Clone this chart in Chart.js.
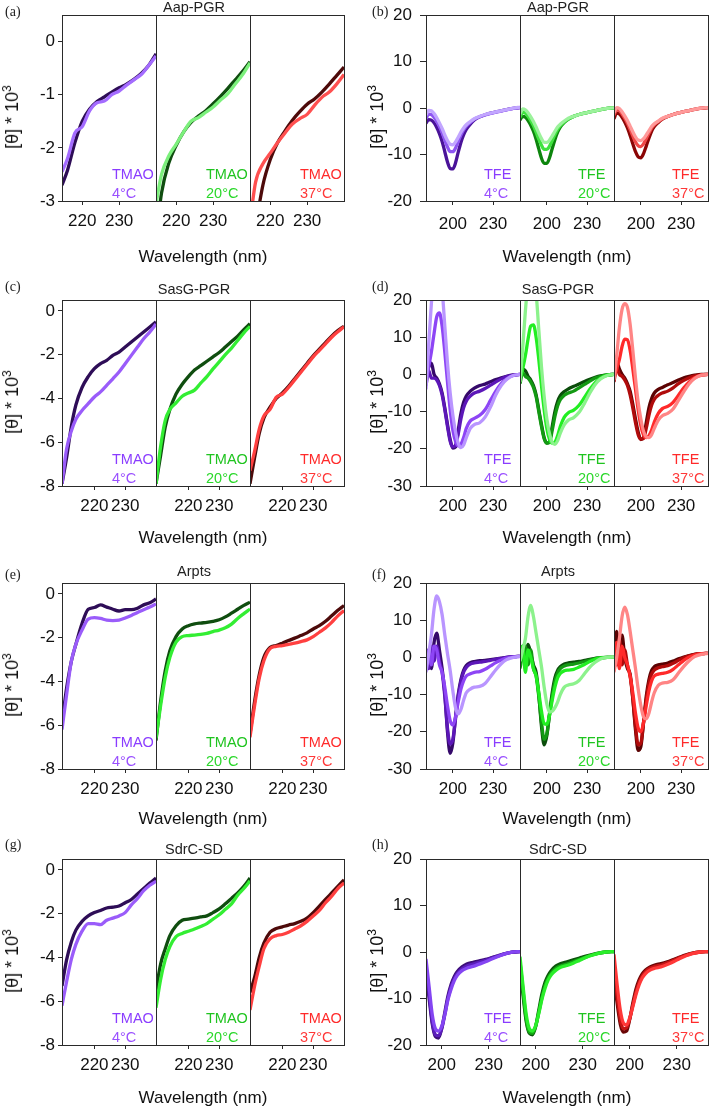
<!DOCTYPE html>
<html>
<head>
<meta charset="utf-8">
<script src="https://cdn.jsdelivr.net/npm/chart.js@4.4.0/dist/chart.umd.min.js"></script>
<style>
  body { margin: 0; background: #fff; width: 709px; height: 1109px; position: relative; overflow: hidden;
         font-family: "Liberation Sans", Arial, sans-serif; color: #111; }
  canvas { position: absolute; }
  .t { position: absolute; white-space: nowrap; line-height: 1; }
  .box { position: absolute; box-sizing: border-box; border: 1px solid #2a2a2a; z-index: 5; pointer-events: none; }
  .div { position: absolute; width: 1px; background: #2a2a2a; z-index: 5; }
</style>
</head>
<body>
<script>
// ---- wavelength grids (nm) ----
const wlA   = [214.5, 216, 218, 220, 222, 224, 226, 228, 230, 232, 234, 236, 238, 240];
const wlTm  = [209.5, 211, 212.5, 214, 216, 218, 220, 222, 224, 226, 228, 230, 232, 234, 236, 238, 240];
const wlTfe = [180, 182, 184, 186, 188, 190, 192, 194, 196, 198, 200, 202, 204, 206, 208, 210, 213, 216, 220, 224, 228, 232, 236, 240, 245, 250];
const wlH   = [190, 192, 194, 196, 198, 200, 202, 204, 206, 208, 210, 213, 216, 220, 224, 228, 232, 236, 240, 245, 250];

// ---- tick labels ----
const xTicksTmao = [220, 230];
const xTicksTfe  = [200, 230];
const yTicksA    = [-3, -2, -1, 0];
const yTicksTmao = [-8, -6, -4, -2, 0];
const yTicksTfe  = [-20, -10, 0, 10, 20];
const yTicksTfeW = [-30, -20, -10, 0, 10, 20];

const titles = ["Aap-PGR", "SasG-PGR", "Arpts", "SdrC-SD"];
const temps  = ["4°C", "20°C", "37°C"];

// ---- (a) Aap-PGR, TMAO ----
const a4Dark   = [-2.7, -2.42, -1.9, -1.5, -1.27, -1.13, -1.04, -0.95, -0.87, -0.8, -0.71, -0.6, -0.45, -0.23];
const a4Light  = [-2.45, -2.2, -1.72, -1.6, -1.3, -1.15, -1.12, -1.0, -0.93, -0.82, -0.72, -0.62, -0.45, -0.27];
const a20Dark  = [-3.7, -2.85, -2.28, -1.95, -1.7, -1.52, -1.4, -1.3, -1.17, -1.03, -0.88, -0.72, -0.56, -0.38];
const a20Light = [-3.05, -2.5, -2.15, -1.93, -1.7, -1.5, -1.43, -1.33, -1.23, -1.1, -0.98, -0.8, -0.62, -0.4];
const a37Dark  = [-4.2, -3.5, -2.7, -2.22, -1.9, -1.68, -1.48, -1.32, -1.18, -1.08, -0.95, -0.8, -0.64, -0.48];
const a37Light = [-3.4, -2.65, -2.3, -2.1, -1.9, -1.72, -1.55, -1.45, -1.37, -1.2, -1.05, -0.95, -0.8, -0.62];

// ---- (b) Aap-PGR, TFE ----
const b4_1  = [-3.3, -2.5, -2.6, -3.2, -4.2, -5.5, -7.2, -9.4, -11.6, -13.0, -13.1, -11.8, -9.5, -7.4, -5.8, -4.6, -3.5, -2.6, -1.9, -1.45, -1.1, -0.85, -0.6, -0.35, -0.1, 0.1];
const b4_2  = [-2.3, -1.3, -1.4, -2.0, -2.9, -4.0, -5.3, -6.9, -8.4, -9.4, -9.4, -8.6, -7.2, -5.8, -4.7, -3.9, -3.1, -2.4, -1.9, -1.5, -1.15, -0.9, -0.65, -0.4, -0.1, 0.1];
const b4_3  = [-1.5, -0.5, -0.6, -1.2, -2.1, -3.2, -4.4, -5.8, -7.0, -7.8, -7.9, -7.3, -6.3, -5.2, -4.3, -3.6, -2.9, -2.3, -1.8, -1.4, -1.1, -0.85, -0.6, -0.35, -0.05, 0.2];
const b20_1 = [-2.6, -1.8, -2.0, -2.7, -3.7, -5.0, -6.7, -8.8, -10.8, -11.9, -11.9, -10.7, -8.7, -6.8, -5.2, -4.1, -3.1, -2.4, -1.8, -1.4, -1.1, -0.85, -0.6, -0.35, -0.1, 0.05];
const b20_2 = [-2.0, -0.9, -1.1, -1.8, -2.7, -3.8, -5.2, -6.7, -8.0, -8.9, -8.9, -8.2, -7.0, -5.7, -4.6, -3.8, -3.0, -2.4, -1.8, -1.4, -1.1, -0.85, -0.6, -0.35, -0.1, 0.05];
const b20_3 = [-1.3, -0.2, -0.4, -1.0, -1.9, -2.9, -4.1, -5.4, -6.6, -7.4, -7.4, -6.9, -6.0, -5.0, -4.1, -3.5, -2.8, -2.2, -1.8, -1.4, -1.1, -0.85, -0.6, -0.35, -0.1, 0.1];
const b37_1 = [-2.3, -1.1, -1.3, -2.0, -3.0, -4.3, -5.9, -7.7, -9.4, -10.5, -10.7, -9.8, -8.2, -6.5, -5.0, -4.0, -3.1, -2.4, -1.85, -1.4, -1.05, -0.8, -0.55, -0.3, -0.05, 0.1];
const b37_2 = [-1.5, -0.4, -0.6, -1.3, -2.2, -3.3, -4.6, -6.0, -7.3, -8.1, -8.3, -7.7, -6.6, -5.4, -4.3, -3.6, -2.9, -2.3, -1.8, -1.4, -1.05, -0.8, -0.55, -0.3, -0.05, 0.1];
const b37_3 = [-1.0, 0.1, -0.1, -0.8, -1.7, -2.7, -3.9, -5.1, -6.2, -6.9, -7.0, -6.6, -5.8, -4.9, -4.0, -3.4, -2.8, -2.2, -1.8, -1.4, -1.05, -0.8, -0.55, -0.3, 0.0, 0.1];

// ---- (c) SasG-PGR, TMAO ----
const c4Dark   = [-7.9, -6.7, -5.3, -4.3, -3.5, -3.0, -2.64, -2.41, -2.26, -2.03, -1.88, -1.65, -1.42, -1.19, -0.96, -0.73, -0.5];
const c4Light  = [-7.9, -6.3, -5.5, -4.95, -4.55, -4.24, -3.93, -3.7, -3.4, -3.1, -2.79, -2.41, -2.03, -1.65, -1.27, -0.96, -0.6];
const c20Dark  = [-7.9, -6.6, -5.3, -4.5, -3.8, -3.35, -3.0, -2.7, -2.5, -2.3, -2.1, -1.9, -1.65, -1.4, -1.15, -0.85, -0.58];
const c20Light = [-7.9, -6.2, -5.0, -4.5, -4.2, -3.9, -3.75, -3.62, -3.3, -3.0, -2.65, -2.33, -2.0, -1.7, -1.35, -1.0, -0.7];
const c37Dark  = [-7.9, -6.7, -5.6, -4.9, -4.4, -4.0, -3.75, -3.45, -3.1, -2.75, -2.4, -2.05, -1.75, -1.45, -1.15, -0.9, -0.7];
const c37Light = [-7.3, -6.4, -5.4, -4.8, -4.5, -3.95, -3.8, -3.5, -3.15, -2.8, -2.45, -2.1, -1.8, -1.5, -1.2, -0.95, -0.72];

// ---- (d) SasG-PGR, TFE ----
const d4_1  = [-1, 2, 3, 0, -1, -2.5, -5, -9, -13.5, -17.5, -19.8, -19.5, -15, -10.5, -7.5, -5.8, -4.5, -3.7, -3.0, -2.6, -2.0, -1.4, -0.9, -0.5, -0.15, 0];
const d4_2  = [-3, 1, -1, -1, -1.5, -3, -5.5, -9.5, -14, -18, -19.5, -19, -16, -12, -9, -7.2, -5.8, -5, -4.5, -3.8, -2.9, -2.0, -1.2, -0.6, -0.2, 0];
const d4_3  = [-2, 2, 6, 11, 15.5, 16.5, 13, 6, -2, -9.5, -15, -18, -19.2, -18.8, -17, -14.5, -12.5, -11.8, -11, -9.5, -7, -4.5, -2.5, -1.2, -0.3, 0];
const d4_4  = [-4, 8, 19, 27, 30, 29, 23, 13, 3, -5, -11, -15.5, -18.5, -19.7, -19, -17, -14.5, -13.5, -13, -11.5, -8.8, -5.5, -3, -1.4, -0.3, 0];
const d20_1 = [-1, 1.5, 1, -0.5, -1.5, -3, -5.5, -9.5, -13.5, -17, -18.5, -18, -14, -10, -7.3, -5.7, -4.6, -3.9, -3.2, -2.6, -1.9, -1.3, -0.8, -0.4, -0.1, 0];
const d20_2 = [-2.5, 0.5, -0.5, -1, -2, -3.5, -6, -10, -14, -17.3, -18.5, -18.2, -15, -11.3, -8.5, -6.8, -5.6, -5, -4.5, -3.6, -2.7, -1.8, -1.0, -0.5, -0.1, 0];
const d20_3 = [-1.5, 1.5, 5, 9.5, 13, 13.3, 10, 4, -3, -9.5, -14.5, -17.5, -18.5, -18.2, -16.5, -14, -11.5, -10.3, -9.6, -8.3, -6.2, -4, -2.2, -1.0, -0.2, 0];
const d20_4 = [-2, 7, 17, 25, 29, 28, 22, 12, 2, -6, -12, -16, -18.3, -18.8, -17.8, -15.8, -13.5, -12.3, -11.6, -10.2, -7.8, -5, -2.7, -1.2, -0.3, 0];
const d37_1 = [-1, 3.5, 1.5, 0, -1, -2.5, -4.5, -8, -12, -15.5, -17.5, -17, -13, -9, -6.5, -5, -4, -3.5, -2.8, -2.2, -1.5, -0.9, -0.5, -0.2, 0, 0];
const d37_2 = [-2, 2, 0, -0.5, -1.5, -3, -5.5, -9, -13, -16.2, -17.4, -17.2, -14.5, -11, -8.3, -6.7, -5.6, -5, -4.5, -3.6, -2.5, -1.6, -0.9, -0.4, -0.1, 0];
const d37_3 = [-1, 1.5, 4, 7.5, 9.5, 9.3, 6.5, 1.5, -4, -9.5, -13.8, -16.3, -17, -16.5, -15, -12.8, -10.5, -9.2, -8.6, -7.5, -5.6, -3.6, -2, -0.9, -0.2, 0];
const d37_4 = [-1.5, 5, 12.5, 17.5, 19, 18, 13.5, 6.5, -1, -7.5, -12, -15.3, -16.8, -17, -16.2, -14.5, -12.3, -11.1, -10.5, -9.3, -7, -4.6, -2.5, -1.1, -0.2, 0];

// ---- (e) Arpts, TMAO ----
const e4Dark   = [-5.9, -4.3, -3.1, -2.3, -1.35, -0.7, -0.62, -0.5, -0.6, -0.7, -0.78, -0.72, -0.72, -0.65, -0.5, -0.4, -0.23];
const e4Light  = [-6.2, -4.6, -3.1, -2.3, -1.65, -1.15, -1.08, -1.12, -1.2, -1.22, -1.2, -1.1, -0.98, -0.85, -0.72, -0.6, -0.46];
const e20Dark  = [-6.7, -4.9, -3.5, -2.6, -1.95, -1.6, -1.45, -1.37, -1.33, -1.3, -1.25, -1.18, -1.05, -0.88, -0.7, -0.52, -0.38];
const e20Light = [-6.6, -5.1, -3.8, -2.9, -2.2, -1.95, -1.9, -1.88, -1.85, -1.8, -1.72, -1.65, -1.55, -1.38, -1.12, -0.9, -0.69];
const e37Dark  = [-6.4, -4.9, -3.7, -2.9, -2.45, -2.36, -2.25, -2.13, -2.02, -1.9, -1.78, -1.6, -1.45, -1.25, -1.0, -0.75, -0.53];
const e37Light = [-6.55, -5.1, -3.85, -3.05, -2.5, -2.4, -2.36, -2.3, -2.25, -2.18, -2.1, -1.95, -1.75, -1.55, -1.3, -1.0, -0.76];

// ---- (f) Arpts, TFE ----
const f4_1  = [-2, 2, -3, 4, 6.5, 2, -3, -9.5, -20, -25.8, -23, -16, -10, -6, -3.5, -2.2, -1.4, -1.1, -0.9, -0.8, -0.6, -0.4, -0.2, 0, 0.2, 0.3];
const f4_2  = [0, -3, 3, -1, 3, -1, -4, -10.5, -19, -23.3, -22, -16.5, -10.5, -6.5, -4, -2.7, -1.8, -1.5, -1.3, -1.1, -0.8, -0.5, -0.25, 0, 0.2, 0.3];
const f4_3  = [-3, 2, -2, 3, 2, -2, -4, -8, -13, -17, -18.2, -16, -12, -8.5, -6.3, -5, -4.4, -4, -3.8, -3.2, -2.3, -1.4, -0.7, -0.2, 0.1, 0.3];
const f4_4  = [-4, 1, 6, 13, 16.5, 15, 11.5, 6, 1, -3.5, -9, -13.5, -15.2, -14, -11.5, -9.5, -8.5, -8, -7.8, -7, -5.2, -3.3, -1.7, -0.6, 0, 0.3];
const f20_1 = [-2, 3, -1, 3.5, 1, -2, -4, -10, -18.5, -23.5, -21, -15, -9.5, -5.5, -3.5, -2.5, -1.8, -1.5, -1.3, -1.1, -0.8, -0.5, -0.25, -0.05, 0, 0];
const f20_2 = [-3, 1, 3, -2, 2, -3, -5, -10.5, -17.5, -22, -20.5, -15.5, -10.5, -6.5, -4.2, -3, -2.3, -2, -1.8, -1.5, -1.1, -0.7, -0.35, -0.1, 0, 0];
const f20_3 = [-1, 3, -4, 2, 0, -3, -5, -9.5, -14.5, -17.8, -18, -15.5, -11.5, -8, -5.5, -4.3, -3.6, -3.4, -3.2, -2.6, -1.9, -1.1, -0.5, -0.15, 0, 0];
const f20_4 = [-1, 2, 5, 11, 14, 11, 6.5, 2, -2.5, -8, -12.5, -14.7, -14.5, -13.5, -12, -10, -8, -7.4, -7.1, -6.2, -4.4, -2.6, -1.3, -0.4, 0, 0.1];
const f37_1 = [4, 7, -1, 6, 0, -3, -4.5, -11, -19.5, -25, -24, -17.5, -10.5, -6, -3.5, -2.5, -2, -1.8, -1.5, -1, -0.4, 0.1, 0.5, 0.8, 1, 1.1];
const f37_2 = [2, -2, 5, -2, 2, -2, -5, -11, -18.5, -23.5, -23, -17.5, -11.5, -7, -4.5, -3.4, -2.8, -2.5, -2.2, -1.6, -0.8, -0.1, 0.4, 0.8, 1, 1.1];
const f37_3 = [-2, 4, -3, 3, 0, -2, -5, -9.5, -15, -19, -20, -17.5, -13, -9, -6.3, -5, -4.5, -4.3, -4, -3.2, -2, -0.8, 0.1, 0.6, 1, 1.1];
const f37_4 = [-4, 0, 5, 11, 13.5, 11.5, 7, 2, -3, -8.5, -13, -16, -16.5, -15, -12, -9.5, -7.5, -6.9, -6.7, -6, -4.2, -2.4, -0.9, 0.2, 0.8, 1.1];

// ---- (g) SdrC-SD, TMAO ----
const g4Dark   = [-5.3, -4.1, -3.3, -2.75, -2.35, -2.1, -1.95, -1.85, -1.74, -1.7, -1.65, -1.5, -1.35, -1.1, -0.85, -0.6, -0.37];
const g4Light  = [-6.2, -5.1, -4.1, -3.4, -2.8, -2.45, -2.45, -2.5, -2.3, -2.2, -2.1, -1.95, -1.6, -1.3, -0.95, -0.7, -0.52];
const g20Dark  = [-5.5, -4.3, -3.6, -3.0, -2.55, -2.3, -2.25, -2.2, -2.15, -2.1, -1.95, -1.78, -1.55, -1.3, -1.05, -0.75, -0.37];
const g20Light = [-6.3, -5.0, -4.1, -3.5, -3.05, -2.9, -2.8, -2.7, -2.58, -2.45, -2.25, -2.05, -1.8, -1.55, -1.15, -0.85, -0.5];
const g37Dark  = [-5.6, -4.9, -4.0, -3.35, -2.85, -2.68, -2.6, -2.52, -2.45, -2.35, -2.2, -1.95, -1.65, -1.35, -1.05, -0.75, -0.45];
const g37Light = [-6.4, -5.3, -4.4, -3.6, -3.15, -3.0, -2.95, -2.85, -2.7, -2.55, -2.35, -2.1, -1.85, -1.5, -1.2, -0.85, -0.6];

// ---- (h) SdrC-SD, TFE ----
const h4_1  = [-4.5, -10, -15.5, -18.2, -18.5, -16.5, -13, -9.5, -7, -5.3, -4.2, -3.2, -2.6, -2.2, -1.9, -1.6, -1.2, -0.8, -0.4, -0.05, 0.1];
const h4_2  = [-3, -9, -15, -17.8, -18, -16.5, -13.5, -10, -7.5, -5.8, -4.6, -3.6, -3, -2.6, -2.2, -1.8, -1.3, -0.85, -0.4, -0.05, 0.1];
const h4_3  = [-1.5, -7.5, -13.5, -16.5, -17, -16, -13.5, -10.3, -8, -6.2, -5, -4, -3.5, -3.1, -2.6, -2.1, -1.5, -0.95, -0.45, -0.05, 0.1];
const h20_1 = [-3.5, -9.5, -15, -17.5, -17.8, -16, -12.5, -9, -6.5, -5, -4, -3, -2.5, -2.1, -1.7, -1.3, -0.9, -0.55, -0.25, 0, 0.1];
const h20_2 = [-2, -8.5, -14.5, -17.2, -17.5, -16, -13, -9.8, -7.2, -5.6, -4.5, -3.5, -3, -2.6, -2.1, -1.6, -1.1, -0.65, -0.3, 0, 0.1];
const h20_3 = [-1, -7.5, -13.5, -16.5, -17, -15.8, -13.2, -10.2, -7.8, -6, -4.9, -3.9, -3.3, -2.9, -2.4, -1.8, -1.2, -0.7, -0.3, 0, 0.1];
const h37_1 = [-5, -11, -15.5, -17.2, -17, -14.5, -11, -8, -6, -4.7, -3.9, -3.2, -2.8, -2.5, -2.1, -1.6, -1.1, -0.6, -0.25, 0, 0.1];
const h37_2 = [-3, -9.5, -14.5, -16.5, -16.3, -14.5, -11.5, -8.7, -6.6, -5.2, -4.3, -3.5, -3.1, -2.8, -2.3, -1.8, -1.2, -0.7, -0.3, 0, 0.1];
const h37_3 = [-0.5, -7, -12.5, -15.3, -15.7, -14.2, -11.8, -9.2, -7.1, -5.6, -4.7, -3.9, -3.5, -3.2, -2.7, -2.1, -1.4, -0.8, -0.35, 0, 0.1];

// ---- colours ----
const tmaoCols = [["#2e0d57", "#9a5cfa"], ["#0f4d0f", "#33ee33"], ["#4d0a0a", "#ff4040"]];
const tmaoColsA = [["#2e0d57", "#a46cff"], ["#0f4d0f", "#7cf07c"], ["#4d0a0a", "#ff5050"]];
const tfe3Cols = [["#4a1399", "#8e55f2", "#c2a6ff"], ["#0d850d", "#3fe33f", "#9cf29c"], ["#8b0505", "#f04848", "#ff9a9a"]];
const tfe4Cols = [["#35096a", "#5c17b8", "#8d45f5", "#b995ff"], ["#0b4d0b", "#139913", "#22ee22", "#8cf28c"], ["#5c0303", "#b00b0b", "#ff2a2a", "#ff8585"]];
const tfeHCols = [["#3d0e78", "#5a1dbb", "#8445f2"], ["#0b550b", "#14a814", "#2aee2a"], ["#6a0606", "#c41414", "#ff3838"]];
const labelCols = [["#8a3cff", "#9a50ff"], ["#1fc41f", "#2bd82b"], ["#ff2a2a", "#ff3838"]];

// ---- layout ----
const SUB_W = 94, BOX_H = 186, X_AXIS_H = 34, PAD_T = 12, PAD_R = 4;
const ROW_TOP = [15, 300, 583, 859];
const LEFT  = { x0: 62,  yW: 62, tickLen: 4, tickPad: 3, labelDx: 50, letterX: 5,   titleX: 194, xTitleX: 203, yTitleX: 12 };
const RIGHT = { x0: 426, yW: 46, tickLen: 6, tickPad: 8, labelDx: 58, letterX: 372, titleX: 558, xTitleX: 567, yTitleX: 377 };
const LETTER_Y = [12, 287, 575, 845];
const TITLE_Y = [7, 289, 571, 849];
const XTITLE_Y = [256, 537, 818, 1097];

Chart.defaults.font.family = '"Liberation Sans", Arial, sans-serif';
Chart.defaults.font.size = 17;
Chart.defaults.color = "#111";

function text(html, x, y, style, anchor) {
  const d = document.createElement("div");
  d.className = "t";
  d.innerHTML = html;
  d.style.left = x + "px";
  d.style.top = y + "px";
  d.style.transform = anchor || "translate(-50%,-50%)";
  Object.assign(d.style, style);
  document.body.appendChild(d);
}

function el(cls, l, t, w, h) {
  const d = document.createElement("div");
  d.className = cls;
  d.style.left = l + "px"; d.style.top = t + "px";
  if (w != null) d.style.width = w + "px";
  d.style.height = h + "px";
  document.body.appendChild(d);
}

function subPanel(col, row, idx, p) {
  const showY = idx === 0;
  const padL = showY ? 0 : 4;
  const yW = showY ? col.yW : 0;
  const boxL = col.x0 + idx * SUB_W, boxT = ROW_TOP[row];
  const w = padL + yW + SUB_W + PAD_R, h = PAD_T + BOX_H + X_AXIS_H;
  const cv = document.createElement("canvas");
  cv.width = w; cv.height = h;
  cv.style.left = (boxL - yW - padL) + "px";
  cv.style.top = (boxT - PAD_T) + "px";
  cv.style.width = w + "px"; cv.style.height = h + "px";
  document.body.appendChild(cv);

  const series = p.subs[idx], cols = p.colors[idx];
  new Chart(cv, {
    type: "line",
    data: {
      datasets: series.map((s, i) => ({
        data: p.wl.map((x, j) => ({ x: x, y: s[j] })),
        borderColor: cols[i],
        borderWidth: 3.3,
        pointRadius: 0,
        cubicInterpolationMode: "monotone",
        order: series.length - i
      }))
    },
    options: {
      responsive: false,
      animation: false,
      devicePixelRatio: 1,
      layout: { padding: { left: padL, top: PAD_T, right: PAD_R, bottom: 0 } },
      plugins: { legend: { display: false }, tooltip: { enabled: false } },
      scales: {
        x: {
          type: "linear", min: p.xr[0], max: p.xr[1],
          afterBuildTicks: s => { s.ticks = p.xt.map(v => ({ value: v })); },
          afterFit: s => { s.height = X_AXIS_H; s.paddingLeft = 0; s.paddingRight = 0; },
          grid: { drawOnChartArea: false, drawTicks: true, tickLength: 4, color: "#2a2a2a" },
          border: { display: false },
          ticks: { autoSkip: false, maxRotation: 0, padding: p.xPad || 6 }
        },
        y: {
          display: showY, min: p.yr[0], max: p.yr[1],
          afterBuildTicks: s => { s.ticks = p.yt.map(v => ({ value: v })); },
          afterFit: s => { s.width = yW; s.paddingTop = 0; s.paddingBottom = 0; },
          grid: { drawOnChartArea: false, drawTicks: true, tickLength: col.tickLen, color: "#2a2a2a" },
          border: { display: false },
          ticks: { padding: col.tickPad }
        }
      }
    }
  });

  // solvent / temperature label
  const lx = boxL + col.labelDx, bottom = boxT + BOX_H;
  const lc = labelCols[idx];
  text(p.solvent, lx, bottom - 27, { color: lc[0], fontSize: "14.5px" }, "translate(0,-50%)");
  text(temps[idx], lx, bottom - 8.5, { color: lc[1], fontSize: "14.5px" }, "translate(0,-50%)");
}

const panels = [
  { letter: "(a)", col: LEFT, row: 0, solvent: "TMAO", wl: wlA, xr: [214.5, 240], xt: xTicksTmao, yr: [-3, 0.5], yt: yTicksA,
    subs: [[a4Dark, a4Light], [a20Dark, a20Light], [a37Dark, a37Light]], colors: tmaoColsA },
  { letter: "(b)", col: RIGHT, row: 0, solvent: "TFE", wl: wlTfe, xr: [180, 250], xt: xTicksTfe, yr: [-20, 20], yt: yTicksTfe, xPad: 9,
    subs: [[b4_1, b4_2, b4_3], [b20_1, b20_2, b20_3], [b37_1, b37_2, b37_3]], colors: tfe3Cols },
  { letter: "(c)", col: LEFT, row: 1, solvent: "TMAO", wl: wlTm, xr: [209.5, 240], xt: xTicksTmao, yr: [-8, 0.5], yt: yTicksTmao,
    subs: [[c4Dark, c4Light], [c20Dark, c20Light], [c37Dark, c37Light]], colors: tmaoCols },
  { letter: "(d)", col: RIGHT, row: 1, solvent: "TFE", wl: wlTfe, xr: [180, 250], xt: xTicksTfe, yr: [-30, 20], yt: yTicksTfeW,
    subs: [[d4_1, d4_2, d4_3, d4_4], [d20_1, d20_2, d20_3, d20_4], [d37_1, d37_2, d37_3, d37_4]], colors: tfe4Cols },
  { letter: "(e)", col: LEFT, row: 2, solvent: "TMAO", wl: wlTm, xr: [209.5, 240], xt: xTicksTmao, yr: [-8, 0.5], yt: yTicksTmao,
    subs: [[e4Dark, e4Light], [e20Dark, e20Light], [e37Dark, e37Light]], colors: tmaoCols },
  { letter: "(f)", col: RIGHT, row: 2, solvent: "TFE", wl: wlTfe, xr: [180, 250], xt: xTicksTfe, yr: [-30, 20], yt: yTicksTfeW,
    subs: [[f4_1, f4_2, f4_3, f4_4], [f20_1, f20_2, f20_3, f20_4], [f37_1, f37_2, f37_3, f37_4]], colors: tfe4Cols },
  { letter: "(g)", col: LEFT, row: 3, solvent: "TMAO", wl: wlTm, xr: [209.5, 240], xt: xTicksTmao, yr: [-8, 0.5], yt: yTicksTmao,
    subs: [[g4Dark, g4Light], [g20Dark, g20Light], [g37Dark, g37Light]], colors: tmaoCols },
  { letter: "(h)", col: RIGHT, row: 3, solvent: "TFE", wl: wlH, xr: [190, 250], xt: xTicksTfe, yr: [-20, 20], yt: yTicksTfe,
    subs: [[h4_1, h4_2, h4_3], [h20_1, h20_2, h20_3], [h37_1, h37_2, h37_3]], colors: tfeHCols }
];

panels.forEach(p => {
  for (let i = 0; i < 3; i++) subPanel(p.col, p.row, i, p);
  const r = p.row, c = p.col, top = ROW_TOP[r];
  // outline + two dividers of the three sub-panels
  el("box", c.x0, top, 3 * SUB_W + 1, BOX_H + 1);
  el("div", c.x0 + SUB_W, top, null, BOX_H);
  el("div", c.x0 + 2 * SUB_W, top, null, BOX_H);
  text(p.letter, c.letterX, LETTER_Y[r], { fontFamily: '"Liberation Serif", "Times New Roman", serif', fontSize: "14px", color: "#222" }, "translate(0,-50%)");
  text(titles[r], c.titleX, TITLE_Y[r], { fontSize: "14.5px", color: "#222" });
  text("Wavelength (nm)", c.xTitleX, XTITLE_Y[r], { fontSize: "17px" });
  const yMid = top + BOX_H / 2 + 9;
  text('[θ] * 10<sup style="font-size:12px;vertical-align:7px;line-height:0">3</sup>', c.yTitleX, yMid,
       { fontSize: "18px" }, "translate(-50%,-50%) rotate(-90deg)");
});
</script>
</body>
</html>
